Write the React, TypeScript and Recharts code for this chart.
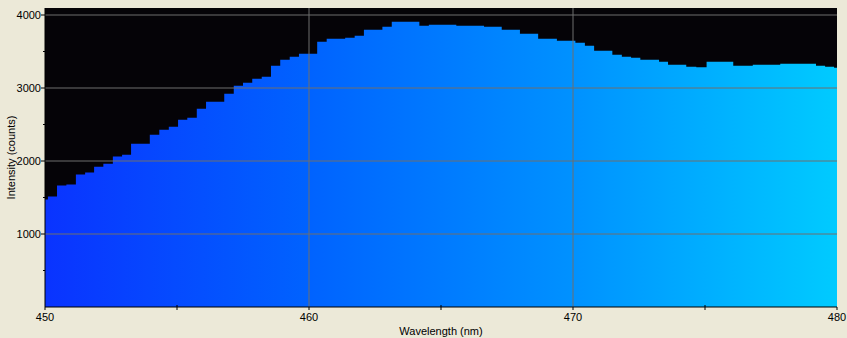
import { ComposedChart, Area, XAxis, YAxis, CartesianGrid, ReferenceLine } from "recharts";

// spectrometer pixel centres (nm) and counts
const wavelengths = [
  449.94, 450.28, 450.63, 450.99, 451.35, 451.69, 452.03, 452.39, 452.75, 453.09,
  453.43, 453.79, 454.15, 454.51, 454.87, 455.21, 455.57, 455.93, 456.27, 456.61,
  456.97, 457.33, 457.67, 458.03, 458.39, 458.73, 459.09, 459.45, 459.79, 460.13,
  460.49, 460.85, 461.19, 461.55, 461.91, 462.25, 462.6, 462.96, 463.31, 463.66,
  464.0, 464.36, 464.72, 465.06, 465.4, 465.76, 466.12, 466.46, 466.8, 467.14,
  467.46, 467.82, 468.16, 468.5, 468.86, 469.22, 469.56, 469.91, 470.27, 470.63,
  470.97, 471.31, 471.67, 472.03, 472.37, 472.73, 473.09, 473.43, 473.77, 474.11,
  474.47, 474.87, 475.25, 475.57, 475.89, 476.25, 476.63, 476.99, 477.31, 477.65,
  478.05, 478.39, 478.71, 479.03, 479.38, 479.72, 480.06,
];
const intensities = [
  1472, 1513, 1663, 1677, 1814, 1841, 1923, 1964, 2060, 2087,
  2238, 2238, 2361, 2429, 2470, 2566, 2593, 2716, 2812, 2812,
  2921, 3031, 3072, 3127, 3154, 3305, 3387, 3428, 3469, 3469,
  3633, 3674, 3674, 3688, 3715, 3797, 3797, 3838, 3906, 3906,
  3906, 3852, 3865, 3865, 3865, 3852, 3852, 3852, 3838, 3838,
  3797, 3797, 3742, 3742, 3674, 3674, 3647, 3647, 3620, 3578,
  3510, 3510, 3455, 3428, 3414, 3387, 3387, 3359, 3318, 3318,
  3291, 3285, 3359, 3359, 3359, 3305, 3305, 3318, 3318, 3318,
  3332, 3332, 3332, 3332, 3305, 3291, 3277,
];

const xTicks = [450, 455, 460, 465, 470, 475, 480];
const yTicks = [500, 1000, 1500, 2000, 2500, 3000, 3500, 4000];
const xGrid = [460, 470];
const yGrid = [1000, 2000, 3000, 4000];

const data = wavelengths.map((w, i) => ({ wavelength: w, intensity: intensities[i] }));

const FONT = "'Liberation Sans', Arial, sans-serif";

function XTick(props: any) {
  const { x, y, payload } = props;
  const major = payload.value % 10 === 0;
  return (
    <g>
      <line x1={x} x2={x} y1={major ? y : y - 2} y2={y + 3} stroke="#000" />
      {major && (
        <text x={x} y={y + 14} textAnchor="middle" fontSize={11} fontFamily={FONT} fill="#000">
          {payload.value}
        </text>
      )}
    </g>
  );
}

function YTick(props: any) {
  const { x, y, payload } = props;
  const major = payload.value % 1000 === 0;
  return (
    <g>
      <line x1={major ? x - 4 : x - 2} x2={x} y1={y} y2={y} stroke="#000" />
      {major && (
        <text x={x - 4} y={y + 4} textAnchor="end" fontSize={11} fontFamily={FONT} fill="#000">
          {payload.value}
        </text>
      )}
    </g>
  );
}

export default function App() {
  return (
    <div
      style={{
        position: "absolute",
        left: 0,
        top: 0,
        width: 847,
        height: 338,
        background: "#ECE9D8",
      }}
    >
      <ComposedChart
        width={847}
        height={338}
        data={data}
        margin={{ top: 8, right: 10, bottom: 0, left: 0 }}
        style={{ fontFamily: FONT }}
      >
        <defs>
          <linearGradient id="spec" x1="0" y1="0" x2="1" y2="0">
            <stop offset="0%" stopColor="#0a33ff" />
            <stop offset="33%" stopColor="#0062ff" />
            <stop offset="67%" stopColor="#0092ff" />
            <stop offset="100%" stopColor="#00cbff" />
          </linearGradient>
        </defs>
        <CartesianGrid fill="#050307" stroke="none" horizontal={false} vertical={false} />
        <XAxis
          dataKey="wavelength"
          type="number"
          domain={[450, 480]}
          allowDataOverflow
          ticks={xTicks}
          interval={0}
          height={31}
          tickSize={0}
          tickMargin={0}
          tick={<XTick />}
          axisLine={{ stroke: "#000" }}
          label={{
            content: (p: any) => {
              const vb = p.viewBox;
              return (
                <text x={vb.x + vb.width / 2} y={vb.y + 28} textAnchor="middle" fontSize={11} fontFamily={FONT} fill="#000">
                  Wavelength (nm)
                </text>
              );
            },
          }}
        />
        <YAxis
          type="number"
          domain={[0, 4096]}
          ticks={yTicks}
          interval={0}
          width={45}
          tickSize={0}
          tickMargin={0}
          tick={<YTick />}
          axisLine={{ stroke: "#000" }}
          label={{
            content: (p: any) => {
              const vb = p.viewBox;
              const cx = vb.x + 15;
              const cy = vb.y + vb.height / 2;
              return (
                <text
                  x={cx}
                  y={cy}
                  transform={`rotate(-90 ${cx} ${cy})`}
                  textAnchor="middle"
                  fontSize={11}
                  fontFamily={FONT}
                  fill="#000"
                >
                  Intensity (counts)
                </text>
              );
            },
          }}
        />
        <Area
          type="step"
          dataKey="intensity"
          fill="url(#spec)"
          fillOpacity={1}
          stroke="none"
          dot={false}
          activeDot={false}
          isAnimationActive={false}
        />
        {yGrid.map((v) => (
          <ReferenceLine key={"h" + v} y={v} stroke="#6e6e6e" strokeWidth={1} />
        ))}
        {xGrid.map((v) => (
          <ReferenceLine key={"v" + v} x={v} stroke="#6e6e6e" strokeWidth={1} />
        ))}
      </ComposedChart>
    </div>
  );
}
